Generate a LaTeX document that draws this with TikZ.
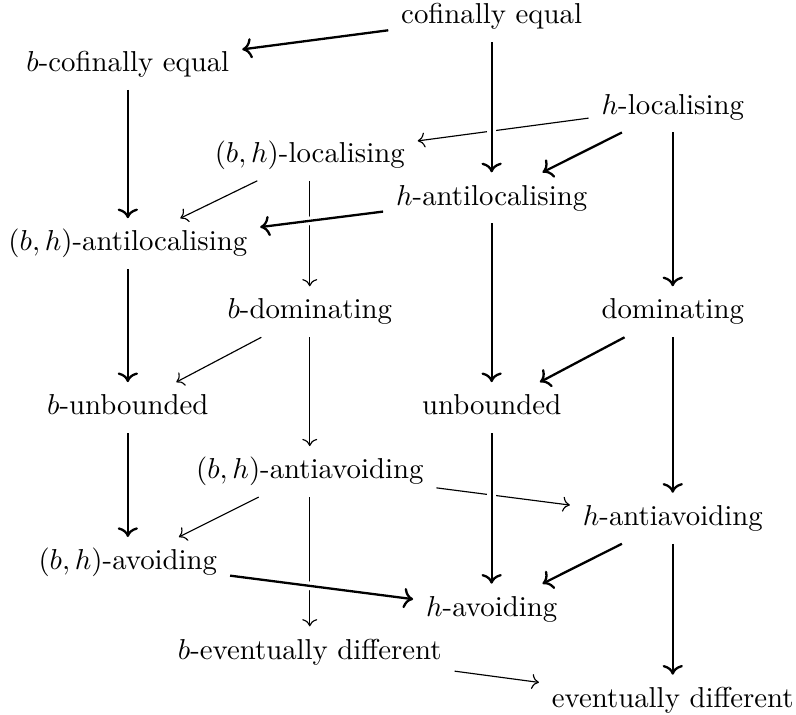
\documentclass[tikz,border=0pt]{standalone}
\usepackage{tikz}
\usetikzlibrary{arrows.meta}
\tikzset{>={Computer Modern Rightarrow}}
\begin{document}
\begin{tikzpicture}[
  every node/.style={text height=0.75em,text depth=0.25em,inner xsep=1ex,inner ysep=0.85ex},
  weak/.style={->,thin},
  strong/.style={->,thick},
  over/.style={preaction={draw=white,line width=3pt,-}}]
\useasboundingbox (0,0) rectangle (9.714,8.725);
\node (cofeq) at (6.00,8.52) {cofinally equal};
\node (bcofeq) at (1.56,7.94) {$b$-cofinally equal};
\node (hloc) at (8.21,7.42) {$h$-localising};
\node (bhloc) at (3.78,6.83) {$(b,h)$-localising};
\node (hantiloc) at (6.00,6.31) {$h$-antilocalising};
\node (bhantiloc) at (1.56,5.75) {$(b,h)$-antilocalising};
\node (bdom) at (3.78,4.92) {$b$-dominating};
\node (dom) at (8.21,4.92) {dominating};
\node (bunb) at (1.56,3.75) {$b$-unbounded};
\node (unb) at (6.00,3.75) {unbounded};
\node (bhantiav) at (3.78,2.97) {$(b,h)$-antiavoiding};
\node (hantiav) at (8.21,2.40) {$h$-antiavoiding};
\node (bhav) at (1.56,1.86) {$(b,h)$-avoiding};
\node (hav) at (6.00,1.29) {$h$-avoiding};
\node (bevd) at (3.78,0.77) {$b$-eventually different};
\node (evd) at (8.21,0.18) {eventually different};
\draw[weak] (hloc) -- (bhloc);
\draw[weak] (bhloc) -- (bhantiloc);
\draw[weak] (bhloc) -- (bdom);
\draw[weak] (bdom) -- (bunb);
\draw[weak] (bdom) -- (bhantiav);
\draw[weak] (bhantiav) -- (hantiav);
\draw[weak] (bhantiav) -- (bhav);
\draw[weak] (bhantiav) -- (bevd);
\draw[weak] (bevd) -- (evd);
\draw[strong] (cofeq) -- (bcofeq);
\draw[strong,over] (cofeq) -- (hantiloc);
\draw[strong] (hloc) -- (hantiloc);
\draw[strong] (hloc) -- (dom);
\draw[strong] (bcofeq) -- (bhantiloc);
\draw[strong,over] (hantiloc) -- (bhantiloc);
\draw[strong] (hantiloc) -- (unb);
\draw[strong] (bhantiloc) -- (bunb);
\draw[strong] (dom) -- (unb);
\draw[strong] (dom) -- (hantiav);
\draw[strong] (bunb) -- (bhav);
\draw[strong,over] (unb) -- (hav);
\draw[strong] (hantiav) -- (hav);
\draw[strong] (hantiav) -- (evd);
\draw[strong,over] (bhav) -- (hav);
\end{tikzpicture}
\end{document}
